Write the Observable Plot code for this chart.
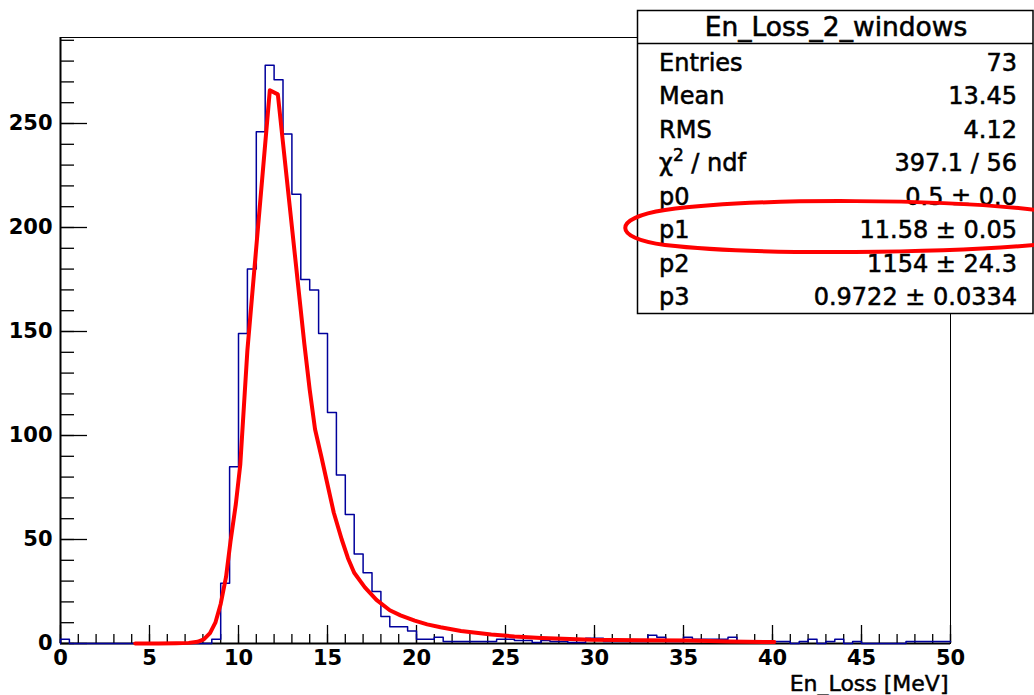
<!DOCTYPE html>
<html><head><meta charset="utf-8">
<script src="https://cdn.jsdelivr.net/npm/d3@7"></script>
<script src="https://cdn.jsdelivr.net/npm/@observablehq/plot@0.6"></script>
<style>
html,body{margin:0;padding:0;background:#fff;}
#wrap{position:relative;width:1034px;height:695px;overflow:hidden;background:#fff;}
#wrap > svg{display:block;}
#overlay{position:absolute;left:0;top:0;pointer-events:none;}
</style></head><body><div id="wrap"></div>
<script>
// ---- data ----
const binStart = 0;
const binWidth = 0.5;
const counts = [
  2, 0,0,0,0,0,0,0,0,0,0,0,0,0,0,0,0,
  2, 29, 85, 149, 180, 246, 278, 271, 245, 216, 175, 170, 149, 111, 81, 62, 43, 34, 25, 13, 8, 8, 6, 2, 2, 3,
  1,1,1,1,1,1,
  2, 2, 1.5, 1.5, 0.5, 1.5, 1, 1, 0.5, 0.5, 2.5, 2.5,
  1,1,1,1,1,
  4, 3, 1, 1, 3, 2, 2, 2, 2, 3,
  1,1,1,1,
  1, 1, 0, 1, 2, 0, 1, 2, 0, 1,
  0,0,0,0,0,
  1,1,1,1,1
];
const fitX = [4.2, 5.5, 6.5, 7.2, 7.7, 8.05, 8.4, 8.7, 9.0, 9.3, 9.55, 9.85, 10.1, 10.5, 11.76, 12.21, 13.7, 14.0, 14.3, 14.65, 14.96, 15.35, 15.8, 16.15, 16.5, 17.1, 17.75, 18.5, 19.1, 19.9, 20.6, 21.35, 22.5, 24.2, 25.5, 27.0, 29.8, 32.5, 35.4, 37.5, 40.1];
const fitY = [0, 0, 0.1, 0.3, 0.8, 2, 5, 10, 19, 32, 49, 67, 86, 141, 266, 264, 144, 122, 103, 90, 78, 63, 50, 41, 34, 27, 21, 16, 13.5, 11, 9.2, 7.8, 6, 4.3, 3.4, 2.7, 1.8, 1.6, 1.4, 1.0, 0.7];
const xMajorTicks = [0, 5, 10, 15, 20, 25, 30, 35, 40, 45, 50];
const xMinorTicks = d3.range(0, 51, 1);
const yMajorTicks = [0, 50, 100, 150, 200, 250];
const yMinorTicks = d3.range(0, 291, 10);
const xTitle = "En_Loss [MeV]";
const statsTitle = "En_Loss_2_windows";
const statLabels = ["Entries", "Mean", "RMS", "χ2 / ndf", "p0", "p1", "p2", "p3"];
const statValues = ["73", "13.45", "4.12", "397.1 / 56", "0.5 ± 0.0", "11.58 ± 0.05", "1154 ± 24.3", "0.9722 ± 0.0334"];

// ---- layout ----
const W = 1034, H = 695;
const mL = 60, mR = 84, mT = 37, mB = 52;
const fw = W - mL - mR, fh = H - mT - mB;
const yMax = (H - mB - mT) / 2.08;

const histPts = [{x: binStart, y: 0}].concat(counts.map((c, i) => ({x: binStart + i * binWidth, y: c})));
histPts.push({x: binStart + counts.length * binWidth, y: counts[counts.length - 1]});
const fitPts = fitX.map((x, i) => ({x, y: fitY[i]}));

const font = "DejaVu Sans";
const chart = Plot.plot({
  width: W, height: H,
  marginLeft: mL, marginRight: mR, marginTop: mT, marginBottom: mB,
  style: {fontFamily: font, background: "white", overflow: "visible"},
  x: {domain: [0, 50], axis: null},
  y: {domain: [0, yMax], axis: null},
  marks: [
    Plot.frame({stroke: "black", strokeWidth: 1}),
    Plot.ruleX([0], {stroke: "black", strokeWidth: 2}),
    Plot.ruleY([0], {stroke: "black", strokeWidth: 2}),
    Plot.tickX(xMinorTicks, {x: d => d, stroke: "black", strokeWidth: 1.3, insetTop: fh - 9}),
    Plot.tickX(xMajorTicks, {x: d => d, stroke: "black", strokeWidth: 1.3, insetTop: fh - 18}),
    Plot.tickY(yMinorTicks, {y: d => d, stroke: "black", strokeWidth: 1.3, insetRight: fw - 14}),
    Plot.tickY(yMajorTicks, {y: d => d, stroke: "black", strokeWidth: 1.3, insetRight: fw - 27}),
    Plot.text(yMajorTicks, {x: 0, y: d => d, text: d => String(d), textAnchor: "end", dx: -8, fontSize: 21, fontWeight: "bold", fill: "black"}),
    Plot.text(xMajorTicks, {x: d => d, y: 0, text: d => String(d), lineAnchor: "top", dy: 7, fontSize: 21, fontWeight: "bold", fill: "black"}),
    Plot.text([xTitle], {x: 50, y: 0, text: d => d, textAnchor: "end", dx: -2, dy: 40, fontSize: 22, fill: "black", stroke: "black", strokeWidth: 0.5}),
    Plot.line(histPts, {x: "x", y: "y", curve: "step-after", stroke: "#00009c", strokeWidth: 1.5}),
    Plot.line(fitPts, {x: "x", y: "y", curve: "linear", stroke: "#ff0000", strokeWidth: 4, strokeLinejoin: "round"})
  ]
});
document.getElementById("wrap").appendChild(chart);

// ---- stats box overlay ----
const ov = d3.select("#wrap").append("svg").attr("id", "overlay").attr("width", W).attr("height", H)
  .style("font-family", font);
ov.append("rect").attr("x", 637.5).attr("y", 10.5).attr("width", 395.5).attr("height", 303)
  .attr("fill", "white").attr("stroke", "black").attr("stroke-width", 1.5);
ov.append("line").attr("x1", 637.5).attr("x2", 1033).attr("y1", 43.5).attr("y2", 43.5)
  .attr("stroke", "black").attr("stroke-width", 1.5);
const txt = (sel) => sel.attr("fill", "black").attr("stroke", "black").attr("stroke-width", 0.55);
txt(ov.append("text").attr("x", 836).attr("y", 36).attr("text-anchor", "middle")
  .attr("font-size", 26.5).text(statsTitle));
statLabels.forEach((lab, i) => {
  const yb = 70.5 + i * 33.5;
  const t = txt(ov.append("text").attr("x", 659).attr("y", yb).attr("font-size", 24));
  if (lab.startsWith("χ2")) {
    t.append("tspan").text("χ");
    t.append("tspan").attr("font-size", 17).attr("dy", -10).text("2");
    t.append("tspan").attr("dy", 10).text(lab.slice(2));
  } else {
    t.text(lab);
  }
  txt(ov.append("text").attr("x", 1017).attr("y", yb).attr("text-anchor", "end").attr("font-size", 24)).text(statValues[i]);
});
// hand-drawn highlight around p1
ov.append("path")
  .attr("d", "M 1045 211 C 950 199, 760 197, 665 210 C 612 218, 612 238, 665 245 C 760 256, 950 253, 1045 244")
  .attr("fill", "none").attr("stroke", "#ff0000").attr("stroke-width", 4);
</script>
</body></html>
